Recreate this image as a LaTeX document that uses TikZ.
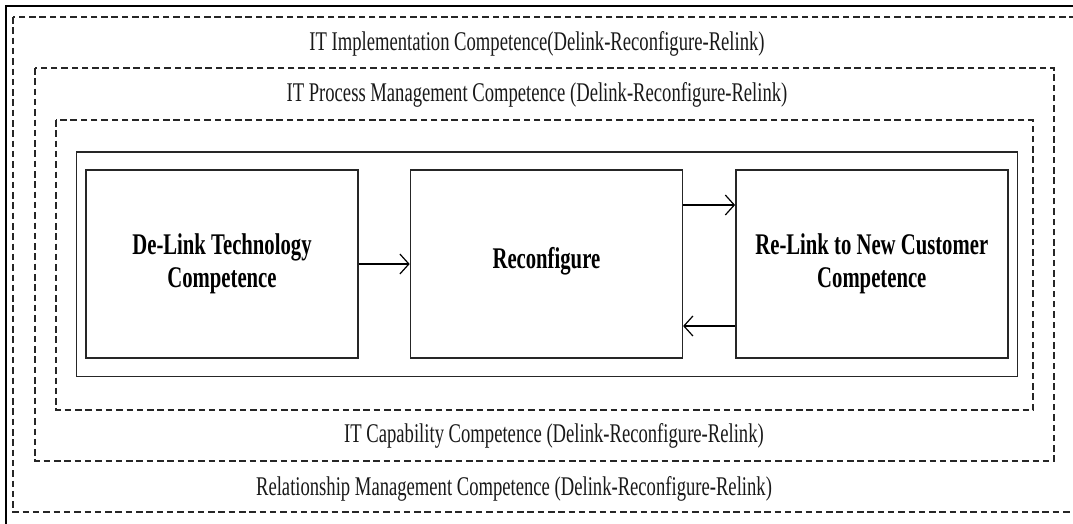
\documentclass[tikz,border=0pt]{standalone}
\usepackage{fontspec}
\setmainfont{Liberation Serif}[FakeStretch=0.69]
\usetikzlibrary{positioning,arrows.meta,fit}
\tikzset{
  ramec/.style={draw=black!85,line width=1.3pt,dash pattern=on 6.5pt off 3.8pt},
  blok/.style={draw=black!85,line width=1.4pt,minimum width=272pt,minimum height=188pt,align=center,font=\fontsize{30}{33}\selectfont\bfseries},
  popis/.style={font=\fontsize{27}{29}\selectfont,text=black!90},
  sip/.style={-{Straight Barb[length=9pt,width=20pt]},line width=1.2pt},
}
\begin{document}
\begin{tikzpicture}[x=1pt,y=-1pt]
  \clip (0,0) rectangle (1073,523);
  \fill[white] (0,0) rectangle (1073,523);
  \draw[line width=1.6pt] (6,6) rectangle (1100,560);
  % nested dashed frames
  \draw[ramec] (13,17) rectangle (1100,512);
  \draw[ramec] (35,68) rectangle (1054,461);
  \draw[ramec] (56,120) rectangle (1033,410);
  \node[popis] (l1) at (537,44) {IT Implementation Competence(Delink-Reconfigure-Relink)};
  \node[popis] (l2) at (537,95) {IT Process Management Competence (Delink-Reconfigure-Relink)};
  \node[popis] (l3) at (554,436) {IT Capability Competence (Delink-Reconfigure-Relink)};
  \node[popis] (l4) at (514,489) {Relationship Management Competence (Delink-Reconfigure-Relink)};
  % the three steps
  \node[blok] (dl) at (222,264) {De-Link Technology\\Competence};
  \node[blok] (rc) [right=51pt of dl] {\raisebox{12pt}{Reconfigure}};
  \node[blok] (rl) [right=52pt of rc] {Re-Link to New Customer\\Competence};
  \node[draw=black!85,line width=1.4pt,inner xsep=9pt,inner ysep=17.5pt,fit=(dl)(rc)(rl)] (ram) {};
  \draw[sip] (dl)--(rc);
  \draw[sip] ([yshift=59pt]rc.east)--([yshift=59pt]rl.west);
  \draw[sip] ([yshift=-62pt]rl.west)--([yshift=-62pt]rc.east);
\end{tikzpicture}
\end{document}
